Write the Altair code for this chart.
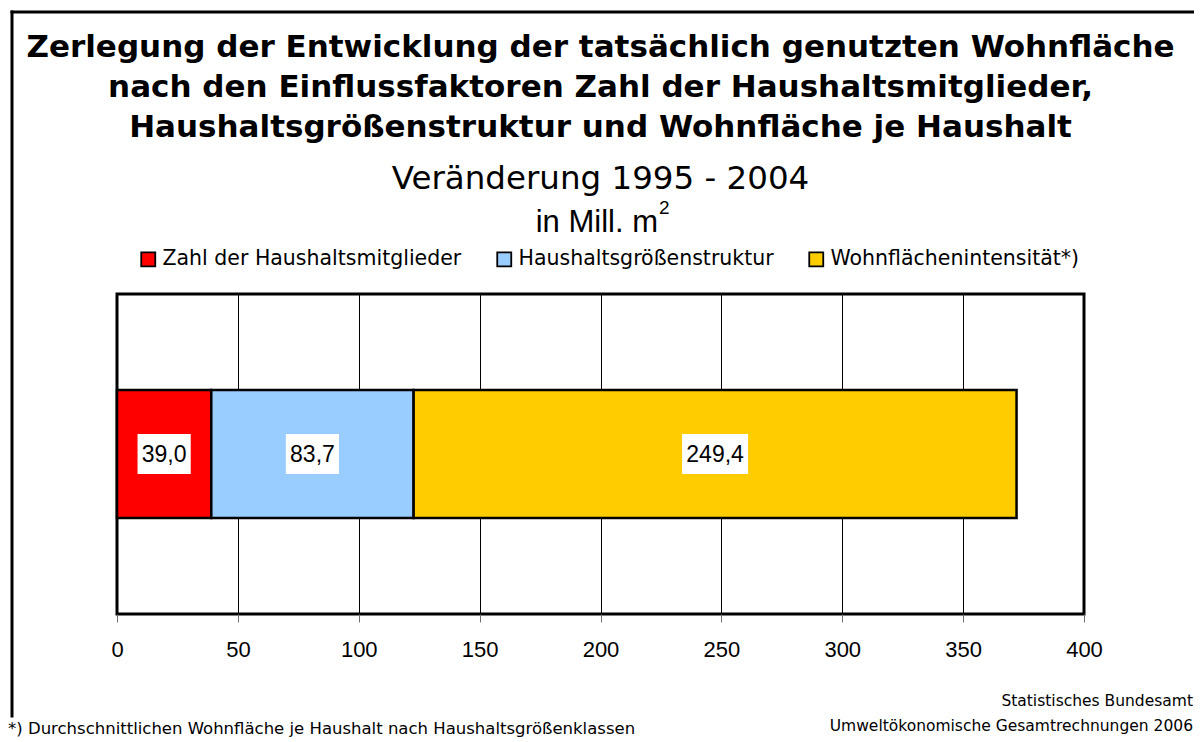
import altair as alt
import pandas as pd

# ---- data ----
categories = ["Zahl der Haushaltsmitglieder", "Haushaltsgrößenstruktur", "Wohnflächenintensität*)"]
values = [39.0, 83.7, 249.4]
colors = ["#FF0000", "#99CCFF", "#FFCC00"]
x_ticks = [0, 50, 100, 150, 200, 250, 300, 350, 400]

title_lines = [
    "Zerlegung der Entwicklung der tatsächlich genutzten Wohnfläche",
    "nach den Einflussfaktoren Zahl der Haushaltsmitglieder,",
    "Haushaltsgrößenstruktur und Wohnfläche je Haushalt",
]
subtitle_line = "Veränderung 1995 - 2004"
unit_text = "in Mill. m"
unit_sup = "2"
footnote = "*) Durchschnittlichen Wohnfläche je Haushalt nach Haushaltsgrößenklassen"
source_lines = ["Statistisches Bundesamt", "Umweltökonomische Gesamtrechnungen 2006"]

FONT = "Liberation Sans"
WIDE = "DejaVu Sans"
W, H = 967, 320

df = pd.DataFrame({
    "cat": categories,
    "value": values,
    "idx": list(range(len(categories))),
    "row": ["a"] * len(categories),
})

base = alt.Chart(df).transform_stack(
    stack="value", groupby=["row"], as_=["x0", "x1"], sort=[alt.SortField("idx")]
)

xscale = alt.Scale(domain=[0, 400], nice=False, zero=True)
yscale = alt.Scale(paddingInner=0.6, paddingOuter=0.3)

bars = base.mark_bar(stroke="black", strokeWidth=2.5, opacity=1).encode(
    x=alt.X("x0:Q", scale=xscale,
            axis=alt.Axis(values=x_ticks, title=None, grid=True, gridColor="black",
                          gridWidth=1, gridOpacity=1, domain=False, tickColor="#707070",
                          tickSize=8, tickWidth=1, labelFontSize=22, labelPadding=17,
                          labelColor="black", labelFont=FONT, labelFlush=False)),
    x2="x1:Q",
    y=alt.Y("row:N", axis=None, scale=yscale),
    color=alt.Color("cat:N", scale=alt.Scale(domain=categories, range=colors),
                    legend=alt.Legend(orient="none", legendX=21, legendY=-45,
                                      direction="horizontal", title=None,
                                      symbolType="square", symbolSize=196,
                                      symbolStrokeColor="black", symbolStrokeWidth=1.8,
                                      symbolOpacity=1, labelFontSize=20.5, labelColor="black",
                                      labelFont=WIDE, columnPadding=31, labelOffset=4,
                                      labelLimit=600)),
)

lab = base.transform_calculate(
    mid="(datum.x0 + datum.x1) / 2",
    label="replace(format(datum.value, '.1f'), '.', ',')",
    n="length(replace(format(datum.value, '.1f'), '.', ','))",
)

box4 = "M-1.33,-1H1.33V1H-1.33Z"
box5 = "M-1.65,-1H1.65V1H-1.65Z"


def box_layer(nchars, path):
    return lab.transform_filter(f"datum.n == {nchars}").mark_point(
        filled=True, fill="white", opacity=1, strokeWidth=0, size=1600, shape=path
    ).encode(
        x=alt.X("mid:Q", scale=xscale),
        y=alt.Y("row:N", axis=None, scale=yscale),
    )


boxes4 = box_layer(4, box4)
boxes5 = box_layer(5, box5)

labels = lab.mark_text(fontSize=23, font=FONT, color="black", baseline="middle",
                       align="center", dy=1).encode(
    x=alt.X("mid:Q", scale=xscale),
    y=alt.Y("row:N", axis=None, scale=yscale),
    text="label:N",
)

# decorative frame lines (top and left; right/bottom lie outside the picture)
frame_df = pd.DataFrame({"k": [0]})
frame_top = alt.Chart(frame_df).mark_rule(stroke="black", strokeWidth=3, strokeCap="square").encode(
    x=alt.value(-105), x2=alt.value(2000), y=alt.value(-282)
)
frame_left = alt.Chart(frame_df).mark_rule(stroke="black", strokeWidth=3, strokeCap="square").encode(
    x=alt.value(-105), y=alt.value(-282), y2=alt.value(422)
)


def text_layer(txt, x, y, size, weight="normal", align="center", font=FONT):
    return alt.Chart(pd.DataFrame({"t": [txt]})).mark_text(
        fontSize=size, fontWeight=weight, font=font, color="black",
        align=align, baseline="alphabetic"
    ).encode(text="t:N", x=alt.value(x), y=alt.value(y))


cx = W / 2
texts = [
    text_layer(title_lines[0], cx, -237, 31, "bold", font=WIDE),
    text_layer(title_lines[1], cx, -197, 31, "bold", font=WIDE),
    text_layer(title_lines[2], cx, -157, 31, "bold", font=WIDE),
    text_layer(subtitle_line, cx, -105, 32.5, font=WIDE),
    text_layer(unit_text, 541, -62, 31, align="right"),
    text_layer(unit_sup, 542, -80, 19, align="left"),
    text_layer(footnote, -109, 440, 16.5, align="left", font=WIDE),
    text_layer(source_lines[0], 1076, 412, 15.5, align="right", font=WIDE),
    text_layer(source_lines[1], 1076, 437, 15.5, align="right", font=WIDE),
]

chart = alt.layer(frame_top, frame_left, bars, boxes4, boxes5, labels, *texts).properties(
    width=W, height=H,
    autosize=alt.AutoSizeParams(type="none"),
    padding={"left": 109, "top": 286, "right": 110, "bottom": 128},
).configure(font=FONT).configure_view(stroke="black", strokeWidth=3)

chart.save("out.html", embed_options={"renderer": "svg", "actions": False})
